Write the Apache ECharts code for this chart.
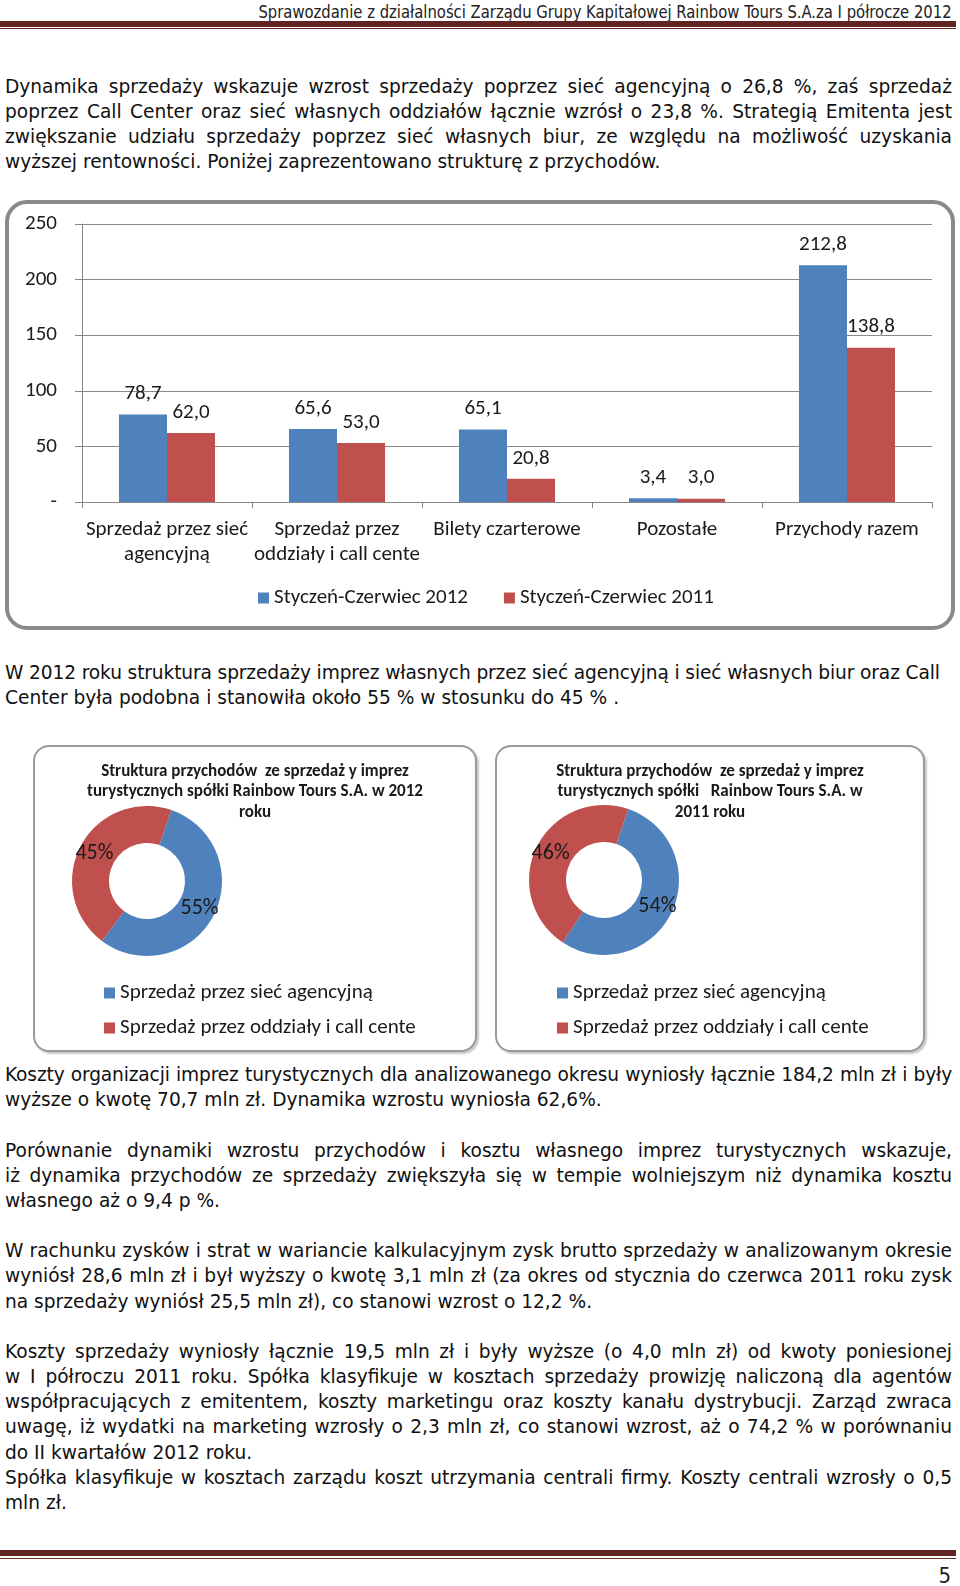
<!DOCTYPE html>
<html><head><meta charset="utf-8">
<script src="https://cdn.jsdelivr.net/npm/echarts@6/dist/echarts.min.js"></script>
<style>
html,body{margin:0;padding:0;background:#fff;}
body{width:960px;height:1586px;position:relative;overflow:hidden;}
.ln{position:absolute;left:5px;width:947px;white-space:nowrap;font-family:"DejaVu Sans",sans-serif;font-size:18.6px;line-height:25px;color:#111;}
.j{text-align:justify;text-align-last:justify;}
.box{position:absolute;box-sizing:border-box;background:#fff;}
#chart{position:absolute;left:0;top:0;width:960px;height:1586px;z-index:2;}
</style></head>
<body>
<div style="position:absolute;right:8px;top:0;font-family:'Liberation Sans Narrow','DejaVu Sans Condensed',sans-serif;font-size:18px;line-height:24px;color:#222;transform:scaleX(0.915);transform-origin:right top;white-space:nowrap;">Sprawozdanie z działalności Zarządu Grupy Kapitałowej Rainbow Tours S.A.za I półrocze 2012</div>
<div style="position:absolute;left:0;top:21px;width:956px;height:6px;background:#622423"></div>
<div style="position:absolute;left:0;top:28px;width:956px;height:1px;background:#622423"></div>

<div class="ln j" style="top:74px">Dynamika sprzedaży wskazuje wzrost sprzedaży poprzez sieć agencyjną o 26,8 %, zaś sprzedaż</div>
<div class="ln j" style="top:99px">poprzez Call Center oraz sieć własnych oddziałów łącznie wzrósł o 23,8 %. Strategią Emitenta jest</div>
<div class="ln j" style="top:124px">zwiększanie udziału sprzedaży poprzez sieć własnych biur, ze względu na możliwość uzyskania</div>
<div class="ln" style="top:149px">wyższej rentowności. Poniżej zaprezentowano strukturę z przychodów.</div>

<div class="box" style="left:5px;top:200px;width:950px;height:430px;border:4px solid #8a8a8a;border-radius:22px;"></div>

<div class="ln" style="top:660px;letter-spacing:-0.12px">W 2012 roku struktura sprzedaży imprez własnych przez sieć agencyjną i sieć własnych biur oraz Call</div>
<div class="ln" style="top:685px">Center była podobna i stanowiła około 55 % w stosunku do 45 % .</div>

<div class="box" style="left:33px;top:745px;width:444px;height:307px;border:2px solid #9a9a9a;border-radius:16px;box-shadow:2px 2px 2px #c8c8c8;"></div>
<div class="box" style="left:495px;top:745px;width:430px;height:307px;border:2px solid #9a9a9a;border-radius:16px;box-shadow:2px 2px 2px #c8c8c8;"></div>

<div class="ln j" style="top:1062px;letter-spacing:-0.15px">Koszty organizacji imprez turystycznych dla analizowanego okresu wyniosły łącznie 184,2 mln zł i były</div>
<div class="ln" style="top:1087px">wyższe o kwotę 70,7 mln zł. Dynamika wzrostu wyniosła 62,6%.</div>

<div class="ln j" style="top:1138px">Porównanie dynamiki wzrostu przychodów i kosztu własnego imprez turystycznych wskazuje,</div>
<div class="ln j" style="top:1163px">iż dynamika przychodów ze sprzedaży zwiększyła się w tempie wolniejszym niż dynamika kosztu</div>
<div class="ln" style="top:1188px">własnego aż o 9,4 p %.</div>

<div class="ln j" style="top:1238px">W rachunku zysków i strat w wariancie kalkulacyjnym zysk brutto sprzedaży w analizowanym okresie</div>
<div class="ln j" style="top:1263px">wyniósł 28,6 mln zł i był wyższy o kwotę 3,1 mln zł (za okres od stycznia do czerwca 2011 roku zysk</div>
<div class="ln" style="top:1289px">na sprzedaży wyniósł 25,5 mln zł), co stanowi wzrost o 12,2 %.</div>

<div class="ln j" style="top:1339px">Koszty sprzedaży wyniosły łącznie 19,5 mln zł i były wyższe (o 4,0 mln zł) od kwoty poniesionej</div>
<div class="ln j" style="top:1364px">w I półroczu 2011 roku. Spółka klasyfikuje w kosztach sprzedaży prowizję naliczoną dla agentów</div>
<div class="ln j" style="top:1389px">współpracujących z emitentem, koszty marketingu oraz koszty kanału dystrybucji. Zarząd zwraca</div>
<div class="ln j" style="top:1414px">uwagę, iż wydatki na marketing wzrosły o 2,3 mln zł, co stanowi wzrost, aż o 74,2 % w porównaniu</div>
<div class="ln" style="top:1440px">do II kwartałów 2012 roku.</div>
<div class="ln j" style="top:1465px">Spółka klasyfikuje w kosztach zarządu koszt utrzymania centrali firmy. Koszty centrali wzrosły o 0,5</div>
<div class="ln" style="top:1490px">mln zł.</div>

<div style="position:absolute;left:0;top:1550px;width:956px;height:6px;background:#622423"></div>
<div style="position:absolute;left:0;top:1558px;width:956px;height:1px;background:#622423"></div>
<div style="position:absolute;right:9px;top:1563px;font-family:'Liberation Sans Narrow','DejaVu Sans Condensed',sans-serif;font-size:22px;line-height:26px;color:#222;">5</div>

<div id="chart"></div>
<script>
// ---- data ----
const categories = ['Sprzedaż przez sieć\nagencyjną', 'Sprzedaż przez\noddziały i call cente', 'Bilety czarterowe', 'Pozostałe', 'Przychody razem'];
const seriesNames = ['Styczeń-Czerwiec 2012', 'Styczeń-Czerwiec 2011'];
const sales2012 = [78.7, 65.6, 65.1, 3.4, 212.8];
const sales2011 = [62.0, 53.0, 20.8, 3.0, 138.8];
const yMin = 0, yMax = 250, yStep = 50;
const pieNames = ['Sprzedaż przez sieć agencyjną', 'Sprzedaż przez oddziały i call cente'];
const share2012 = [55, 45];
const share2011 = [54, 46];
const pieTitle2012 = 'Struktura przychodów  ze sprzedaż y imprez\nturystycznych spółki Rainbow Tours S.A. w 2012\nroku';
const pieTitle2011 = 'Struktura przychodów  ze sprzedaż y imprez\nturystycznych spółki   Rainbow Tours S.A. w\n2011 roku';

const BLUE = '#4F81BD', RED = '#C0504D';
const FONT = 'Carlito, Lato, sans-serif';
const FS = 21;
const fmt = v => v.toFixed(1).replace('.', ',');

const chart = echarts.init(document.getElementById('chart'), null, {renderer: 'canvas'});
const pieData = (vals) => vals.map((v, i) => ({name: pieNames[i], value: v, itemStyle: {color: i === 0 ? BLUE : RED}}));
const legendText = {fontSize: FS, color: '#1a1a1a', fontFamily: FONT, lineHeight: 22};

chart.setOption({
  animation: false,
  textStyle: {fontFamily: FONT},
  grid: {left: 82, right: 28, top: 224, bottom: 1084, containLabel: false},
  xAxis: {
    type: 'category', data: categories,
    axisLine: {lineStyle: {color: '#868686', width: 1}},
    axisTick: {show: true, length: 6, lineStyle: {color: '#868686'}},
    axisLabel: {color: '#1a1a1a', fontSize: FS, fontFamily: FONT, lineHeight: 25, margin: 15, interval: 0}
  },
  yAxis: {
    type: 'value', min: yMin, max: yMax, interval: yStep,
    axisLine: {show: true, lineStyle: {color: '#868686', width: 1}},
    axisTick: {show: true, length: 7, lineStyle: {color: '#868686'}},
    splitLine: {lineStyle: {color: '#8a8a8a', width: 1}},
    axisLabel: {color: '#1a1a1a', fontSize: FS, fontFamily: FONT, margin: 25, formatter: v => v === 0 ? '-' : String(v)}
  },
  legend: [
    {data: seriesNames, left: 258, top: 587, padding: 0, itemWidth: 11, itemHeight: 11, itemGap: 36,
     icon: 'rect', textStyle: legendText},
    {data: pieNames, left: 104, top: 982, orient: 'vertical', padding: 0, itemWidth: 11, itemHeight: 11, itemGap: 13,
     icon: 'rect', textStyle: legendText},
    {data: pieNames, left: 557, top: 982, orient: 'vertical', padding: 0, itemWidth: 11, itemHeight: 11, itemGap: 13,
     icon: 'rect', textStyle: legendText}
  ],
  graphic: [
    {type: 'text', x: 255, y: 761, z: 10, style: {text: pieTitle2012, align: 'center', verticalAlign: 'top',
      font: 'bold 17px ' + FONT, lineHeight: 20.5, fill: '#1a1a1a'}},
    {type: 'text', x: 710, y: 761, z: 10, style: {text: pieTitle2011, align: 'center', verticalAlign: 'top',
      font: 'bold 17px ' + FONT, lineHeight: 20.5, fill: '#1a1a1a'}}
  ],
  series: [
    {name: seriesNames[0], type: 'bar', data: sales2012, itemStyle: {color: BLUE},
     barGap: '0%', barCategoryGap: '43.5%',
     label: {show: true, position: 'top', distance: 10, fontSize: FS, color: '#1a1a1a', fontFamily: FONT, formatter: p => fmt(p.value)}},
    {name: seriesNames[1], type: 'bar', data: sales2011, itemStyle: {color: RED},
     barGap: '0%', barCategoryGap: '43.5%',
     label: {show: true, position: 'top', distance: 10, fontSize: FS, color: '#1a1a1a', fontFamily: FONT, formatter: p => fmt(p.value)}},
    {name: 'share2012', type: 'pie', center: [147, 881], radius: [38, 75], startAngle: 71, clockwise: true,
     avoidLabelOverlap: false, data: pieData(share2012),
     label: {show: true, position: 'inside', formatter: '{c}%', fontSize: 22, color: '#1a1a1a', fontFamily: FONT},
     labelLine: {show: false}, emphasis: {disabled: true}},
    {name: 'share2011', type: 'pie', center: [604, 880], radius: [38, 75], startAngle: 71, clockwise: true,
     avoidLabelOverlap: false, data: pieData(share2011),
     label: {show: true, position: 'inside', formatter: '{c}%', fontSize: 22, color: '#1a1a1a', fontFamily: FONT},
     labelLine: {show: false}, emphasis: {disabled: true}}
  ]
});
</script>
</body></html>
